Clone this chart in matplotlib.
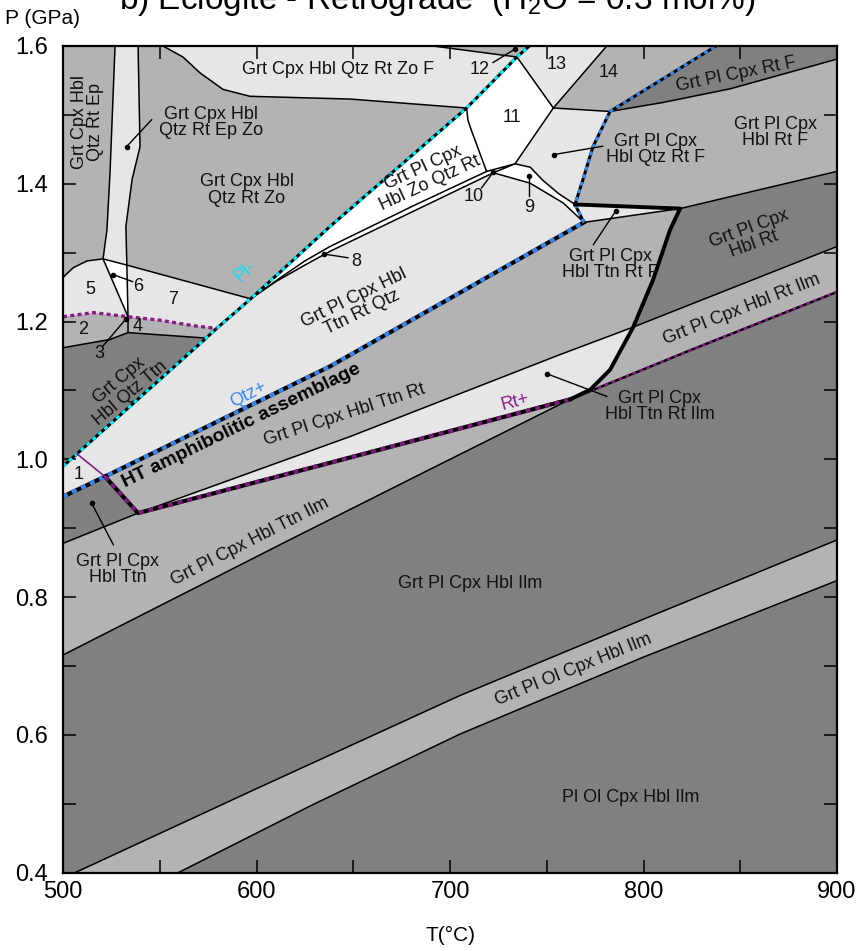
import matplotlib
matplotlib.use("Agg")
import matplotlib.pyplot as plt
from matplotlib import font_manager
from matplotlib.patches import Polygon
from matplotlib.ticker import MultipleLocator

names = {f.name for f in font_manager.fontManager.ttflist}
NARROW = 'Liberation Sans Narrow' if 'Liberation Sans Narrow' in names else 'Liberation Sans'
plt.rcParams['font.family'] = ['Liberation Sans', 'DejaVu Sans']
plt.rcParams['mathtext.fontset'] = 'custom'
plt.rcParams['mathtext.rm'] = NARROW

DARK = '#808080'
MID = '#b3b3b3'
LIGHT = '#e6e6e6'
WHITE = '#ffffff'

# field boundaries, (T degC, P GPa)
la = ([559.5, 630, 705, 800, 900], [0.40, 0.50, 0.601, 0.713, 0.824])
lb = ([506.2, 600, 705, 800, 900], [0.40, 0.522, 0.657, 0.768, 0.883])
lc = ([500, 617, 690, 762], [0.716, 0.883, 0.986, 1.087])
ttn = ([500, 538.8], [0.878, 0.922])
rt_lo = ([521.7, 538.8, 638, 762], [0.975, 0.922, 0.995, 1.087])
rt_hi = ([762, 825.6, 900], [1.087, 1.160, 1.243])
rt_thin = ([507.2, 521.7], [1.008, 0.975])
u1 = ([538.8, 648.3, 756.8, 794.7, 900], [0.922, 1.033, 1.152, 1.192, 1.309])
qtz_lo = ([500, 521.7, 638, 769.2], [0.946, 0.975, 1.135, 1.344])
qtz_hi = ([769.2, 764.6, 768.7, 773.9, 782.7, 837.5], [1.344, 1.370, 1.406, 1.454, 1.505, 1.600])
pl = ([500, 507.2, 574, 579.4, 597, 638, 708.6, 734.6, 741],
      [0.990, 1.008, 1.176, 1.190, 1.233, 1.338, 1.510, 1.584, 1.600])
thick = ([764.6, 818.9, 813.7, 805, 794.7, 782.7, 772.4, 762],
         [1.370, 1.364, 1.333, 1.261, 1.192, 1.130, 1.101, 1.087])
rtf_in = ([769.2, 818.9], [1.344, 1.364])
hblrt = ([818.9, 900], [1.364, 1.418])
rtf = ([782.7, 810, 845, 900], [1.505, 1.518, 1.538, 1.581])
b14 = ([753.4, 782.7], [1.510, 1.505])
b13 = ([753.4, 781], [1.510, 1.600])
b11t = ([734.6, 753.4], [1.584, 1.510])
b12 = ([691.2, 734.6], [1.600, 1.584])
b11r = ([753.4, 733.6], [1.510, 1.429])
b11l = ([708.6, 709.3, 711, 718.5, 719], [1.510, 1.492, 1.478, 1.421, 1.418])
b9u = ([733.6, 741.5, 748, 756, 764.6], [1.429, 1.424, 1.405, 1.386, 1.370])
b9l = ([722.4, 741.3, 758.6, 769.2], [1.416, 1.401, 1.372, 1.344])
b10 = ([719, 733.6, 722.4], [1.418, 1.429, 1.416])
b8a = ([597, 610, 625, 638, 681, 722.4], [1.233, 1.258, 1.282, 1.302, 1.360, 1.416])
b8b = ([597, 612, 625, 638, 681, 719], [1.233, 1.263, 1.288, 1.309, 1.368, 1.418])
zof = ([551.7, 562, 570.8, 582.7, 596.6, 648.3, 708.6], [1.600, 1.584, 1.561, 1.537, 1.527, 1.523, 1.510])
top7 = ([520.7, 533, 597], [1.291, 1.282, 1.233])
wl = ([526.9, 524.3, 522.7, 520.7], [1.600, 1.416, 1.333, 1.291])
wr = ([538.8, 539.8, 535.7, 532.5, 533, 533.6, 533.6], [1.600, 1.454, 1.406, 1.338, 1.282, 1.207, 1.184])
r5 = ([500, 505.2, 512.4, 520.7], [1.264, 1.278, 1.288, 1.291])
r6 = ([520.7, 533.6], [1.291, 1.207])
pu = ([500, 515.7, 533.6, 550.1, 567.3, 579.4], [1.207, 1.213, 1.207, 1.202, 1.194, 1.190])
dk = ([500, 524.3, 533.6, 574], [1.162, 1.174, 1.184, 1.176])


def seg(b, i0, i1):
    T, P = b
    idx = range(i0, i1 + 1) if i0 <= i1 else range(i0, i1 - 1, -1)
    return [(T[i], P[i]) for i in idx]


fields = [
    (MID, seg(lb, 0, 4) + [(900, 0.824)] + seg(la, 4, 0)),
    (MID, seg(ttn, 0, 1) + seg(rt_lo, 2, 3) + seg(lc, 3, 0)),
    (MID, seg(qtz_lo, 1, 3) + seg(rtf_in, 0, 1) + seg(thick, 1, 4) + seg(u1, 3, 0) + seg(rt_lo, 0, 0)),
    (MID, seg(u1, 3, 4) + [(900, 1.243)] + seg(rt_hi, 2, 0) + seg(thick, 7, 4)),
    (MID, seg(rtf, 0, 3) + seg(hblrt, 1, 0) + seg(thick, 1, 0) + seg(qtz_hi, 1, 4)),
    (MID, seg(b13, 0, 1) + seg(qtz_hi, 5, 4) + seg(b14, 1, 0)),
    (MID, seg(b12, 0, 1) + [(741, 1.6)]),
    (MID, [(538.8, 1.6)] + seg(zof, 0, 6) + seg(pl, 6, 4) + seg(top7, 2, 1) + seg(wr, 4, 0)),
    (MID, [(500, 1.6)] + seg(wl, 0, 3) + seg(r5, 3, 0)),
    (MID, seg(pu, 0, 2) + seg(wr, 6, 6) + seg(dk, 2, 0)),
    (MID, seg(pu, 2, 5) + seg(pl, 3, 2) + seg(dk, 3, 2)),
    (LIGHT, seg(u1, 0, 3) + seg(thick, 4, 7) + seg(rt_lo, 3, 1)),
    (LIGHT, seg(thick, 0, 1) + seg(rtf_in, 0, 0)),
    (LIGHT, seg(rt_thin, 0, 1) + seg(qtz_lo, 1, 3) + seg(b9l, 3, 0) + seg(b8a, 5, 0) + seg(pl, 4, 1)),
    (LIGHT, seg(pl, 0, 1) + seg(rt_thin, 0, 1) + seg(qtz_lo, 1, 0)),
    (LIGHT, seg(b14, 0, 1) + seg(qtz_hi, 4, 1) + seg(b9u, 4, 0) + seg(b11r, 1, 0)),
    (LIGHT, seg(pl, 7, 8) + [(781, 1.6)] + seg(b13, 1, 0) + seg(b11t, 1, 0)),
    (LIGHT, seg(zof, 0, 0) + seg(b12, 0, 1) + seg(pl, 7, 6) + seg(zof, 6, 0)),
    (LIGHT, seg(wl, 0, 0) + seg(wr, 0, 4) + seg(top7, 1, 0) + seg(wl, 3, 0)),
    (LIGHT, seg(r5, 0, 3) + seg(r6, 1, 1) + seg(pu, 2, 0)),
    (LIGHT, seg(top7, 1, 2) + seg(pl, 4, 3) + seg(pu, 5, 2) + seg(wr, 5, 4)),
    (WHITE, seg(pl, 4, 6) + seg(b11l, 0, 4) + seg(b10, 1, 2) + seg(b8a, 5, 0)),
    (WHITE, seg(pl, 6, 7) + seg(b11t, 0, 1) + seg(b11r, 0, 1) + seg(b11l, 4, 0)),
    (WHITE, seg(b9u, 0, 4) + seg(qtz_hi, 0, 0) + seg(b9l, 3, 0)),
    (WHITE, seg(r6, 0, 1) + seg(wr, 5, 4) + seg(top7, 1, 0)),
]

thin_lines = [la, lb, lc, ttn, u1, rtf_in, hblrt, rtf, b14, b13, b11t, b12, b11r, b11l,
              b9u, b9l, b10, b8a, b8b, zof, top7, wl, wr, r5, r6, dk]

# labels: text, T, P, rotation, size
labels = [
    ('Grt Cpx Hbl\nQtz Rt Ep', 512.7, 1.490, 90, 13),
    ('Grt Cpx Hbl\nQtz Rt Ep Zo', 576.5, 1.489, 0, 13),
    ('Grt Cpx Hbl\nQtz Rt Zo', 595.1, 1.391, 0, 13),
    ('Grt Cpx Hbl Qtz Rt Zo F', 641.9, 1.566, 0, 13),
    ('Grt Pl Cpx Rt F', 848.1, 1.559, 11.5, 13),
    ('Grt Pl Cpx\nHbl Rt F', 868.0, 1.474, 0, 13),
    ('Grt Pl Cpx\nHbl Qtz Rt F', 806.0, 1.450, 0, 13),
    ('Grt Pl Cpx\nHbl Zo Qtz Rt', 688.0, 1.412, 25, 13),
    ('Grt Pl Cpx Hbl\nTtn Rt Qtz', 652.5, 1.224, 26, 13),
    ('Grt Pl Cpx\nHbl Ttn Rt F', 782.7, 1.283, 0, 13),
    ('Grt Pl Cpx\nHbl Rt', 855.9, 1.324, 20, 13),
    ('Grt Pl Cpx Hbl Rt Ilm', 850.7, 1.217, 21.5, 13),
    ('Grt Pl Cpx\nHbl Ttn Rt Ilm', 808.5, 1.077, 0, 13),
    ('Grt Pl Cpx Hbl Ttn Rt', 645.7, 1.064, 18, 13),
    ('Grt Cpx\nHbl Qtz Ttn', 532.0, 1.105, 40, 13),
    ('Grt Pl Cpx\nHbl Ttn', 528.2, 0.840, 0, 13),
    ('Grt Pl Cpx Hbl Ttn Ilm', 596.6, 0.881, 27, 13),
    ('Grt Pl Cpx Hbl Ilm', 710.3, 0.820, 0, 13),
    ('Grt Pl Ol Cpx Hbl Ilm', 763.6, 0.694, 22, 13),
    ('Pl Ol Cpx Hbl Ilm', 793.4, 0.509, 0, 13),
    ('1', 507.9, 0.978, 0, 13), ('2', 510.5, 1.188, 0, 13), ('3', 518.8, 1.154, 0, 13),
    ('4', 538.4, 1.193, 0, 13), ('5', 514.0, 1.246, 0, 13), ('6', 538.9, 1.251, 0, 13),
    ('7', 557.0, 1.232, 0, 13), ('8', 651.8, 1.287, 0, 13), ('9', 741.0, 1.365, 0, 13),
    ('10', 712.0, 1.382, 0, 13), ('11', 731.9, 1.496, 0, 13), ('12', 715.5, 1.566, 0, 13),
    ('13', 755.1, 1.573, 0, 13), ('14', 781.8, 1.561, 0, 13),
]

# leader lines: from label side to dot
leaders = [
    ((545.8, 1.493), (532.9, 1.454)),
    ((722.2, 1.576), (733.6, 1.5955)),
    ((778.9, 1.4545), (753.7, 1.4424)),
    ((716.3, 1.394), (722.4, 1.417)),
    ((740.8, 1.382), (740.8, 1.411)),
    ((647.3, 1.2926), (634.9, 1.298)),
    ((774.1, 1.3117), (785.8, 1.361)),
    ((781.0, 1.0914), (750.0, 1.1243)),
    ((520.8, 1.165), (532.6, 1.204)),
    ((536.0, 1.258), (526.0, 1.268)),
    ((526.0, 0.876), (514.8, 0.9365)),
]

fig = plt.figure(figsize=(8.68, 9.51), dpi=100)
ax = fig.add_axes([63 / 868, 1 - 872.7 / 951, 774 / 868, 826.7 / 951])
ax.set_facecolor(DARK)
ax.set_xlim(500, 900)
ax.set_ylim(0.4, 1.6)

for color, pts in fields:
    ax.add_patch(Polygon(pts, closed=True, facecolor=color, edgecolor='none', zorder=1))

for b in thin_lines:
    ax.plot(b[0], b[1], color='black', lw=1.1, zorder=2, solid_capstyle='round')

# marked reaction lines
ax.plot(*pl, color='black', lw=2.2, zorder=3)
ax.plot(*pl, color='#00f0ff', lw=2.2, ls=(0, (1.3, 1.3)), zorder=3)
ax.plot(*qtz_lo, color='black', lw=3.0, zorder=3)
ax.plot(*qtz_lo, color='#3a86f0', lw=3.0, ls=(0, (1.2, 1.2)), zorder=3)
ax.plot(*qtz_hi, color='black', lw=2.2, zorder=3)
ax.plot(*qtz_hi, color='#3a86f0', lw=2.2, ls=(0, (1.3, 1.3)), zorder=3)
ax.plot(*rt_lo, color='black', lw=3.0, zorder=3)
ax.plot(*rt_lo, color='#7a1a7a', lw=3.0, ls=(0, (1.2, 1.2)), zorder=3)
ax.plot(*rt_hi, color='black', lw=1.8, zorder=3)
ax.plot(*rt_hi, color='#8a1a8a', lw=1.8, ls=(0, (1.5, 1.5)), zorder=3)
ax.plot(*rt_thin, color='#8a1a8a', lw=1.2, zorder=3)
ax.plot(*pu, color='#8a1a8a', lw=2.4, ls=(0, (1.2, 1.0)), zorder=3)
ax.plot(*thick, color='black', lw=2.8, zorder=4, solid_joinstyle='round')

for (t0, p0), (t1, p1) in leaders:
    ax.plot([t0, t1], [p0, p1], color='black', lw=1.0, zorder=4)
    ax.plot(t1, p1, 'o', color='black', ms=3, zorder=4)

for text, t, p, rot, size in labels:
    ax.text(t, p, text, ha='center', va='center', rotation=rot, rotation_mode='anchor',
            fontsize=size, linespacing=0.95, zorder=5, color='#111111')

ax.text(592, 1.049, 'HT amphibolitic assemblage', ha='center', va='center', rotation=26,
        rotation_mode='anchor', fontsize=14, fontweight='bold', zorder=5)
ax.text(596.0, 1.094, 'Qtz+', color='#3a86f0', ha='center', va='center', rotation=27,
        rotation_mode='anchor', fontsize=13, zorder=5)
ax.text(594.0, 1.272, 'Pl-', color='#00e5ff', ha='center', va='center', rotation=40,
        rotation_mode='anchor', fontsize=13, zorder=5)
ax.text(733.6, 1.084, 'Rt+', color='#8a1a8a', ha='center', va='center', rotation=15,
        rotation_mode='anchor', fontsize=13, zorder=5)

ax.xaxis.set_major_locator(MultipleLocator(100))
ax.xaxis.set_minor_locator(MultipleLocator(50))
ax.yaxis.set_major_locator(MultipleLocator(0.2))
ax.yaxis.set_minor_locator(MultipleLocator(0.1))
ax.tick_params(which='both', direction='in', top=True, right=True, length=9.5, width=1.1)
ax.tick_params(axis='x', pad=6, labelsize=17, labelfontfamily=NARROW)
ax.tick_params(axis='y', pad=11, labelsize=17, labelfontfamily=NARROW)
ax.set_yticks([0.4, 0.6, 0.8, 1.0, 1.2, 1.4, 1.6])
ax.set_yticklabels(['0.4', '0.6', '0.8', '1.0', '1.2', '1.4', '1.6'])
for s in ax.spines.values():
    s.set_linewidth(1.6)
    s.set_zorder(6)

fig.text(5 / 868, 1 - 19 / 951, 'P (GPa)', ha='left', va='center', fontsize=15, family=NARROW)
fig.text(450 / 868, 1 - 935 / 951, 'T(°C)', ha='center', va='center', fontsize=15, family=NARROW)
fig.text(437 / 868, 1 - 9 / 951, r'b) Eclogite - Retrograde  (H$_\mathrm{2}$O = 0.3 mol%)',
         ha='center', va='baseline', fontsize=24, family=NARROW)

fig.savefig('out.png', dpi=100)
